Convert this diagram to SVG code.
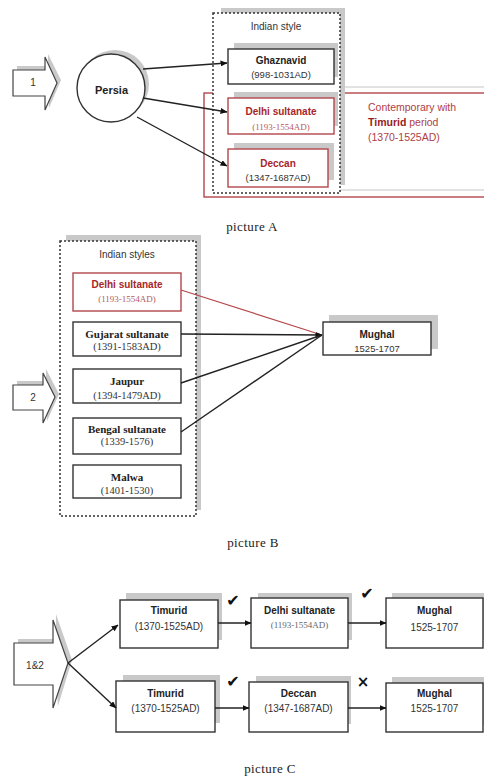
<svg xmlns="http://www.w3.org/2000/svg" width="484" height="777" viewBox="0 0 484 777">
<defs>
<marker id="ah" markerWidth="7" markerHeight="6" refX="6.5" refY="3" orient="auto" markerUnits="userSpaceOnUse"><path d="M0,0 L7,3 L0,6 z" fill="#111"/></marker>
<style>
.box{fill:#fff;stroke:#333;stroke-width:1.4}
.rbox{fill:#fff;stroke:#b4474b;stroke-width:1.4}
.sh{fill:#c9c9c9;stroke:none}
.dash{fill:#fff;stroke:#333;stroke-width:1.5;stroke-dasharray:2,2}
.ln{stroke:#222;stroke-width:1.4;fill:none}
.ttl{font-family:"Liberation Sans",Arial,sans-serif;font-weight:bold;font-size:10px;fill:#222;text-anchor:middle}
.sd{font-family:"Liberation Sans",Arial,sans-serif;font-size:9.5px;fill:#333;text-anchor:middle}
.st{font-family:"Liberation Serif","Times New Roman",serif;font-weight:bold;font-size:11px;fill:#222;text-anchor:middle}
.sr{font-family:"Liberation Serif","Times New Roman",serif;font-size:10.5px;fill:#333;text-anchor:middle}
.red{fill:#a8262b}
.rdate{font-family:"Liberation Serif","Times New Roman",serif;font-size:9px;fill:#b75a5d;text-anchor:middle}
.cap{font-family:"Liberation Serif","Times New Roman",serif;font-size:13px;fill:#222;text-anchor:middle;letter-spacing:0.4px}
.lab{font-family:"Liberation Sans",Arial,sans-serif;font-size:10px;fill:#333;text-anchor:middle}
.arr{fill:#fff;stroke:#444;stroke-width:1.2}
.mk{font-family:"DejaVu Sans",sans-serif;font-size:16px;fill:#111;text-anchor:middle}
</style>
</defs>

<!-- ===== Picture A ===== -->
<g id="contemporary">
<rect x="220" y="87" width="300" height="103" fill="none" stroke="#cfcfcf" stroke-width="1.2"/>
<rect x="204" y="93" width="300" height="104" fill="none" stroke="#b4474b" stroke-width="1.4"/>
<text x="368" y="110.5" font-family="'Liberation Sans',Arial,sans-serif" font-size="10.5" fill="#b04045">Contemporary with</text>
<text x="368" y="125.5" font-family="'Liberation Sans',Arial,sans-serif" font-size="10.5" fill="#b04045"><tspan font-weight="bold" fill="#9b1c20">Timurid</tspan> period</text>
<text x="368" y="140.5" font-family="'Liberation Sans',Arial,sans-serif" font-size="10.5" fill="#b04045">(1370-1525AD)</text>
</g>

<g id="arrow1">
<polygon class="sh" points="17,66 48,66 48,54 61,80 49,108 48,92 17,92"/>
<polygon class="arr" points="13,70 45,70 45,57 57,83 45,110 45,96 13,96"/>
<text class="lab" x="33" y="86">1</text>
</g>

<g id="persia">
<circle cx="115" cy="84" r="34" fill="#c9c9c9"/>
<circle cx="111" cy="88" r="34" fill="#fff" stroke="#333" stroke-width="1.4"/>
<text x="111.5" y="94" font-family="'Liberation Sans',Arial,sans-serif" font-weight="bold" font-size="11" fill="#222" text-anchor="middle">Persia</text>
</g>

<g id="indian-style">
<rect class="sh" x="221" y="8" width="124" height="177"/>
<rect class="dash" x="213" y="13" width="127" height="180"/>
<text x="276" y="30" font-family="'Liberation Sans',Arial,sans-serif" font-size="10" fill="#333" text-anchor="middle">Indian style</text>
</g>

<g id="ghaznavid">
<rect class="sh" x="234" y="43" width="104" height="34"/>
<rect class="box" x="228" y="49" width="106" height="35"/>
<text class="ttl" x="281" y="64">Ghaznavid</text>
<text class="sd" x="281" y="78">(998-1031AD)</text>
</g>

<g id="delhi-a">
<rect class="sh" x="234" y="92" width="104" height="34"/>
<rect class="rbox" x="228" y="98" width="106" height="36"/>
<text class="ttl red" x="281" y="115">Delhi sultanate</text>
<text class="rdate" x="281" y="130">(1193-1554AD)</text>
</g>

<g id="deccan-a">
<rect class="sh" x="234" y="143" width="100" height="37"/>
<rect class="rbox" x="228" y="149" width="100" height="38"/>
<text class="ttl red" x="278" y="167">Deccan</text>
<text class="sd" x="278" y="181" fill="#a8262b">(1347-1687AD)</text>
</g>

<text class="cap" x="252" y="231">picture A</text>

<!-- ===== Picture B ===== -->
<g id="arrow2">
<polygon class="sh" points="17,381 46,381 46,369 59,394 47,421 46,406 17,406"/>
<polygon class="arr" points="13,385 43,385 43,373 55,397 43,423 43,410 13,410"/>
<text class="lab" x="33" y="401">2</text>
</g>

<g id="indian-styles">
<rect class="sh" x="66" y="235" width="135" height="275"/>
<rect class="dash" x="60" y="241" width="136" height="275"/>
<text x="127" y="258" font-family="'Liberation Sans',Arial,sans-serif" font-size="10" fill="#333" text-anchor="middle">Indian styles</text>
</g>

<g id="delhi-b">
<rect class="rbox" x="73" y="273" width="108" height="38"/>
<text class="ttl red" x="127" y="288">Delhi sultanate</text>
<text class="rdate" x="127" y="302">(1193-1554AD)</text>
</g>
<g id="gujarat">
<rect class="box" x="73" y="322" width="108" height="34"/>
<text class="st" x="127" y="338">Gujarat sultanate</text>
<text class="sr" x="127" y="350">(1391-1583AD)</text>
</g>
<g id="jaupur">
<rect class="box" x="73" y="369" width="108" height="34"/>
<text class="st" x="127" y="385">Jaupur</text>
<text class="sr" x="127" y="399">(1394-1479AD)</text>
</g>
<g id="bengal">
<rect class="box" x="73" y="418" width="108" height="36"/>
<text class="st" x="127" y="433">Bengal sultanate</text>
<text class="sr" x="127" y="445">(1339-1576)</text>
</g>
<g id="malwa">
<rect class="box" x="73" y="465" width="108" height="33"/>
<text class="st" x="127" y="481">Malwa</text>
<text class="sr" x="127" y="494">(1401-1530)</text>
</g>

<g id="mughal-b">
<rect class="sh" x="329" y="315" width="109" height="34"/>
<rect class="box" x="323" y="322" width="108" height="33"/>
<text class="ttl" x="377" y="338">Mughal</text>
<text class="sd" x="377" y="352">1525-1707</text>
</g>

<text class="cap" x="253" y="547">picture B</text>

<!-- ===== Picture C ===== -->
<g id="arrow12">
<polygon class="sh" points="18,639 56,639 56,614 72,660 58,706 56,682 18,682"/>
<polygon class="arr" points="14,643 53,643 53,620 68,663 53,708 53,685 14,685"/>
<text class="lab" x="35" y="669">1&amp;2</text>
</g>

<g id="timurid1">
<rect class="sh" x="126" y="593" width="96" height="47"/>
<rect class="box" x="120" y="600" width="98" height="48"/>
<text class="ttl" x="169" y="614">Timurid</text>
<text class="lab" x="169" y="630">(1370-1525AD)</text>
</g>
<g id="delhi-c">
<rect class="sh" x="258" y="593" width="94" height="47"/>
<rect class="box" x="251" y="598" width="97" height="50"/>
<text class="ttl" x="299.5" y="614">Delhi sultanate</text>
<text x="299.5" y="628" font-family="'Liberation Serif','Times New Roman',serif" font-size="9" fill="#666" text-anchor="middle">(1193-1554AD)</text>
</g>
<g id="mughal-c1">
<rect class="sh" x="392" y="593" width="92" height="47"/>
<rect class="box" x="386" y="598" width="97" height="50"/>
<text class="ttl" x="434.5" y="614">Mughal</text>
<text class="lab" x="434.5" y="631">1525-1707</text>
</g>
<g id="timurid2">
<rect class="sh" x="123" y="675" width="97" height="48"/>
<rect class="box" x="116" y="681" width="99" height="51"/>
<text class="ttl" x="165.5" y="697">Timurid</text>
<text class="lab" x="165.5" y="712">(1370-1525AD)</text>
</g>
<g id="deccan-c">
<rect class="sh" x="256" y="676" width="95" height="48"/>
<rect class="box" x="249" y="682" width="99" height="50"/>
<text class="ttl" x="298.5" y="697">Deccan</text>
<text class="lab" x="298.5" y="712">(1347-1687AD)</text>
</g>
<g id="mughal-c2">
<rect class="sh" x="392" y="677" width="92" height="48"/>
<rect class="box" x="386" y="683" width="97" height="49"/>
<text class="ttl" x="434.5" y="697">Mughal</text>
<text class="lab" x="434.5" y="712">1525-1707</text>
</g>

<g id="marks">
<text class="mk" x="233" y="606">✔</text>
<text class="mk" x="367" y="599">✔</text>
<text class="mk" x="233" y="687">✔</text>
<text x="363" y="687" font-family="'DejaVu Sans',sans-serif" font-weight="bold" font-size="15" fill="#111" text-anchor="middle">×</text>
</g>

<text class="cap" x="270" y="773">picture C</text>

<!-- ===== Connectors ===== -->
<g id="connectors">
<line class="ln" x1="143" y1="69" x2="227" y2="63" marker-end="url(#ah)"/>
<line class="ln" x1="143" y1="98" x2="227" y2="112" marker-end="url(#ah)"/>
<line class="ln" x1="137" y1="117" x2="227" y2="166" marker-end="url(#ah)"/>

<line x1="181" y1="290" x2="322" y2="335" stroke="#b4474b" stroke-width="1.1"/>
<line class="ln" x1="181" y1="334" x2="322" y2="335" stroke-width="1.1" marker-end="url(#ah)"/>
<line class="ln" x1="181" y1="383" x2="322" y2="335" stroke-width="1.5"/>
<line class="ln" x1="181" y1="432" x2="322" y2="335" stroke-width="1.1"/>

<line class="ln" x1="68" y1="663" x2="118" y2="625" marker-end="url(#ah)"/>
<line class="ln" x1="68" y1="663" x2="116" y2="708" marker-end="url(#ah)"/>
<line class="ln" x1="218" y1="623" x2="251" y2="623" marker-end="url(#ah)"/>
<line class="ln" x1="348" y1="623" x2="386" y2="623" marker-end="url(#ah)"/>
<line class="ln" x1="215" y1="708" x2="249" y2="708" marker-end="url(#ah)"/>
<line class="ln" x1="348" y1="708" x2="386" y2="708" marker-end="url(#ah)"/>
</g>
</svg>
